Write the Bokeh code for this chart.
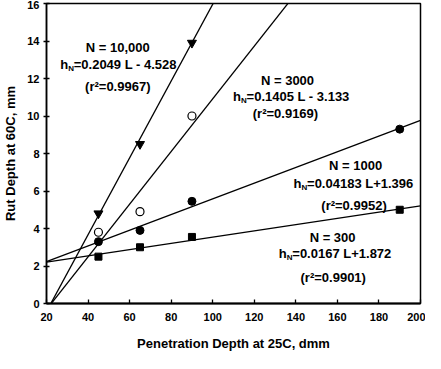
from bokeh.plotting import figure
from bokeh.models import Label, Range1d, FixedTicker
from bokeh.embed import file_html
from bokeh.resources import INLINE

# ---- data ----
pen_10000 = [45, 65, 90]
rut_10000 = [4.8, 8.5, 13.9]
pen_3000 = [45, 65, 90]
rut_3000 = [3.8, 4.9, 10.0]
pen_1000 = [45, 65, 90, 190]
rut_1000 = [3.3, 3.9, 5.45, 9.3]
pen_300 = [45, 65, 90, 190]
rut_300 = [2.5, 3.0, 3.55, 5.0]

fit_names = ["10000", "3000", "1000", "300"]
fit_slopes = [0.2049, 0.1405, 0.04183, 0.0167]
fit_intercepts = [-4.528, -3.133, 1.396, 1.872]
fit_x = [20, 200]

x_ticks = [20, 40, 60, 80, 100, 120, 140, 160, 180, 200]
y_ticks = [0, 2, 4, 6, 8, 10, 12, 14, 16]

FONT = "Liberation Sans"

p = figure(width=425, height=353, output_backend="svg", toolbar_location=None,
           x_range=Range1d(20, 200), y_range=Range1d(0, 16),
           min_border_left=40, min_border_right=5, min_border_top=3,
           min_border_bottom=49)
p.background_fill_color = "white"
p.border_fill_color = "white"
p.outline_line_color = "black"
p.outline_line_width = 1.5
p.grid.visible = False

# regression lines
for s, b in zip(fit_slopes, fit_intercepts):
    p.line(fit_x, [s * x + b for x in fit_x], line_color="black", line_width=1.3)

# points
p.scatter(pen_10000, rut_10000, marker="inverted_triangle", size=9,
          fill_color="black", line_color="black")
p.scatter(pen_3000, rut_3000, marker="circle", size=8,
          fill_color="white", line_color="black", line_width=1.2)
p.scatter(pen_1000, rut_1000, marker="circle", size=8,
          fill_color="black", line_color="black")
p.scatter(pen_300, rut_300, marker="square", size=7,
          fill_color="black", line_color="black")

# axes
p.xaxis.ticker = FixedTicker(ticks=x_ticks)
p.yaxis.ticker = FixedTicker(ticks=y_ticks)
for ax in (p.xaxis[0], p.yaxis[0]):
    ax.minor_tick_line_color = None
    ax.axis_line_color = "black"
    ax.major_tick_line_color = "black"
    ax.major_tick_line_width = 1.3
    ax.major_label_text_font = FONT
    ax.major_label_text_font_style = "bold"
    ax.major_label_text_font_size = "11px"
    ax.major_label_text_color = "black"
    ax.axis_label_text_font = FONT
    ax.axis_label_text_font_style = "bold"
    ax.axis_label_text_font_size = "13px"
    ax.axis_label_text_color = "black"

p.xaxis.axis_line_width = 2
p.yaxis.axis_line_width = 1.5
p.xaxis.major_tick_in = 4
p.xaxis.major_tick_out = 0
p.yaxis.major_tick_in = 3
p.yaxis.major_tick_out = 3
p.xaxis.major_label_standoff = 9
p.yaxis.major_label_standoff = 4
p.xaxis.axis_label = "Penetration Depth at 25C, dmm"
p.yaxis.axis_label = "Rut Depth at 60C, mm"
p.xaxis.axis_label_standoff = 12
p.yaxis.axis_label_standoff = 6


def txt(x, y, t, align="center", size="13px", xo=0, yo=0):
    p.add_layout(Label(x=x, y=y, text=t, text_align=align, text_baseline="middle",
                       text_font=FONT, text_font_style="bold", text_font_size=size,
                       text_color="black", x_offset=xo, y_offset=yo))


def eq(x, y, rest):
    txt(x, y, "h", align="left")
    txt(x, y, "N", align="left", size="8px", xo=8, yo=-4)
    txt(x, y, rest, align="left", xo=13.5)


# N = 10,000
txt(54.3, 13.65, "N = 10,000")
eq(26.6, 12.76, "=0.2049 L - 4.528")
txt(54.3, 11.56, "(r\u00b2=0.9967)")
# N = 3000
txt(136.0, 11.87, "N = 3000")
eq(109.8, 11.03, "=0.1405 L - 3.133")
txt(135.0, 10.14, "(r\u00b2=0.9169)")
# N = 1000
txt(168.8, 7.37, "N = 1000")
eq(138.9, 6.38, "=0.04183 L+1.396")
txt(168.0, 5.23, "(r\u00b2=0.9952)")
# N = 300
txt(157.7, 3.50, "N = 300")
eq(131.8, 2.67, "=0.0167 L+1.872")
txt(158.0, 1.41, "(r\u00b2=0.9901)")

open("out.html", "w").write(file_html(p, INLINE))
